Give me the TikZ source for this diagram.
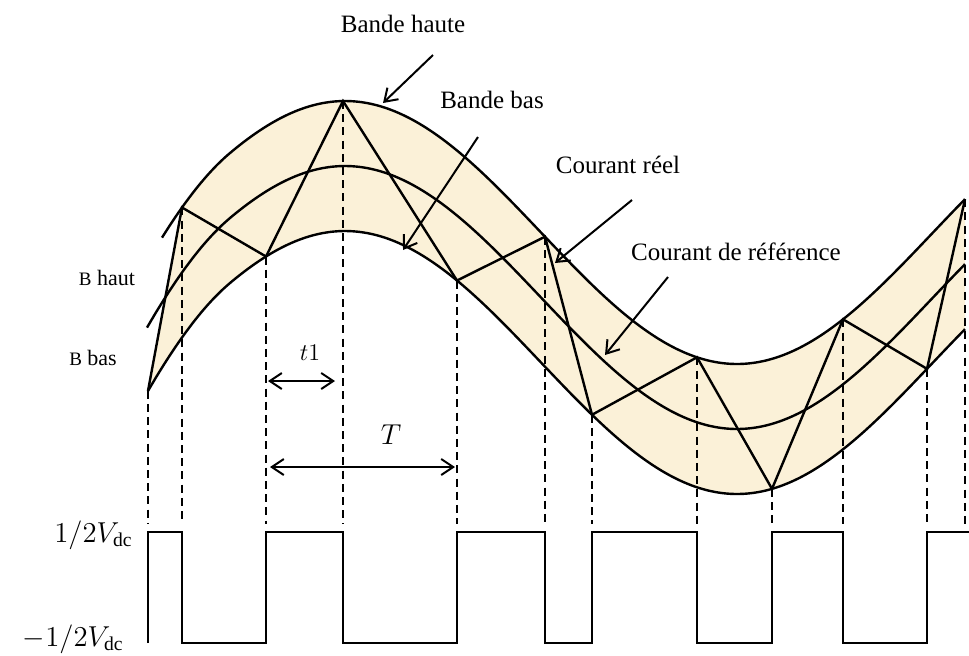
\documentclass[tikz,border=0pt]{standalone}
\usepackage{fontspec}
\setmainfont{Liberation Serif}
\usetikzlibrary{arrows.meta}
\definecolor{bandfill}{RGB}{251,241,216}

\begin{document}
\begin{tikzpicture}[x=0.5pt,y=-0.5pt,>={Straight Barb[length=6pt,width=8pt]},
  declare function={ymid(\x)=297.5-131.5*cos((\x-345)/392*180)+28*(max(0,(230-\x)/83))^2;},
  curve/.style={line width=1.2pt},
  guide/.style={line width=1.2pt,dash pattern=on 4pt off 2.6pt},
  lbl/.style={font=\fontsize{12.5}{14}\selectfont,inner sep=0pt},
  blbl/.style={font=\fontsize{11}{13}\selectfont,inner sep=0pt}]
  \useasboundingbox (0,0) rectangle (969,655);
  % Switching points on the bands
  \coordinate (b1) at (148,{ymid(148)+65}); \coordinate (h1) at (182,{ymid(182)-65});
  \coordinate (b2) at (266,{ymid(266)+65}); \coordinate (h2) at (343,{ymid(343)-65});
  \coordinate (b3) at (457,{ymid(457)+65}); \coordinate (h3) at (545,{ymid(545)-65});
  \coordinate (b4) at (592,{ymid(592)+65}); \coordinate (h4) at (697,{ymid(697)-65});
  \coordinate (b5) at (772,{ymid(772)+65}); \coordinate (h5) at (843,{ymid(843)-65});
  \coordinate (b6) at (927,{ymid(927)+65}); \coordinate (h6) at (965,{ymid(965)-65});
  \coordinate (dashend) at (0,524);
  % Hysteresis band
  \fill[bandfill] plot[domain=182:965,samples=90] (\x,{ymid(\x)-65})
    -- plot[domain=965:148,samples=90] (\x,{ymid(\x)+65}) -- cycle;
  \draw[curve] plot[domain=162:965,samples=90,smooth] (\x,{ymid(\x)-65});
  \draw[curve] plot[domain=147:965,samples=90,smooth] (\x,{ymid(\x)});
  \draw[curve] plot[domain=148:965,samples=90,smooth] (\x,{ymid(\x)+65});
  % Real current
  \draw[curve] (b1) -- (h1) -- (b2) -- (h2) -- (b3) -- (h3) -- (b4) -- (h4) -- (b5) -- (h5) -- (b6) -- (h6);
  % Projections
  \foreach \v in {b1,h1,b2,h2,b3,h3,b4,h4,b5,h5,b6,h6}
    \draw[guide] (\v) -- (\v |- dashend);
  % Output voltage
  \draw[curve] (148,643) -- (148,532) -- (182,532) -- (182,643) -- (266,643) -- (266,532) -- (343,532) -- (343,643)
    -- (457,643) -- (457,532) -- (545,532) -- (545,643) -- (592,643) -- (592,532) -- (697,532) -- (697,643)
    -- (772,643) -- (772,532) -- (843,532) -- (843,643) -- (927,643) -- (927,532) -- (969,532);
  \node[anchor=base east,font=\fontsize{14}{16}\selectfont,inner sep=0pt] (vhi) at (133,542) {$1/2V_{\mathrm{dc}}$};
  \node[anchor=base east,font=\fontsize{14}{16}\selectfont,inner sep=0pt] (vlo) at (124,646) {$-1/2V_{\mathrm{dc}}$};
  % Time marks
  \coordinate (t1a) at (268,381); \coordinate (t1b) at (335,381);
  \draw[<->,line width=1pt] (t1a) -- (t1b);
  \node[font=\fontsize{13}{15}\selectfont] (t1lbl) at (310,353) {$t1$};
  \coordinate (Ta) at (270,467); \coordinate (Tb) at (455,467);
  \draw[<->,line width=1pt] (Ta) -- (Tb);
  \node[font=\fontsize{14}{16}\selectfont] (Tlbl) at (391,435) {$T$};
  % Labels and pointers
  \node[lbl] (haute) at (403,24) {Bande haute};
  \coordinate (hauteA) at (433,55); \coordinate (hauteB) at (383,103);
  \draw[->,line width=1pt] (hauteA) -- (hauteB);
  \node[lbl] (bas) at (492,100) {Bande bas};
  \coordinate (basA) at (478,137); \coordinate (basB) at (403,250);
  \draw[->,line width=1pt] (basA) -- (basB);
  \node[lbl] (reel) at (618,165) {Courant réel};
  \coordinate (reelA) at (632,200); \coordinate (reelB) at (555,263);
  \draw[->,line width=1pt] (reelA) -- (reelB);
  \node[lbl] (refc) at (736,252) {Courant de référence};
  \coordinate (refA) at (668,277); \coordinate (refB) at (605,355);
  \draw[->,line width=1pt] (refA) -- (refB);
  \node[blbl] (bhaut) at (107,278) {{\fontsize{9.5}{10}\selectfont B} haut};
  \node[blbl] (bbas) at (93,358) {{\fontsize{9.5}{10}\selectfont B} bas};
\end{tikzpicture}
\end{document}
